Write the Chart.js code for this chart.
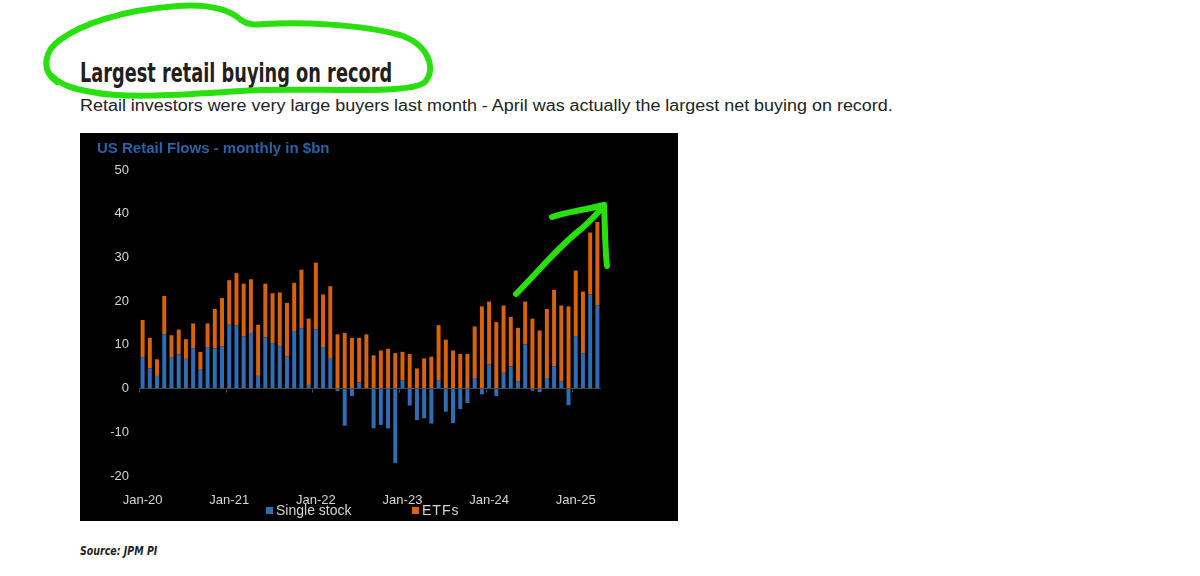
<!DOCTYPE html>
<html lang="en">
<head>
<meta charset="UTF-8">
<title>Largest retail buying on record</title>
<script src="https://cdn.jsdelivr.net/npm/chart.js"></script>
<style>
  body {
    margin: 0;
    width: 1200px;
    height: 576px;
    position: relative;
    overflow: hidden;
    background: #fff;
    font-family: 'Liberation Sans', Arial, sans-serif;
  }
  .fit { position: absolute; margin: 0; white-space: nowrap; transform-origin: left top; }
  #titre {
    left: 80px; top: 59px;
    font-family: 'Liberation Sans Narrow', 'DejaVu Sans Condensed', sans-serif;
    font-weight: bold; font-size: 27px; line-height: 27px; color: #231f20;
  }
  #sous {
    left: 80px; top: 98px;
    font-size: 16px; line-height: 16px; color: #222;
  }
  #source {
    left: 80px; top: 545px;
    font-family: 'Liberation Sans Narrow', 'DejaVu Sans Condensed', sans-serif;
    font-weight: bold; font-style: italic; font-size: 12px; line-height: 12px; color: #231f20;
  }
  .panel {
    position: absolute; left: 80px; top: 133px;
    width: 598px; height: 388px; background: #000;
  }
  .panel canvas { position: absolute; left: 0; top: 0; }
  .chart-titre {
    position: absolute; left: 17px; top: 6px;
    font-weight: bold; font-size: 15px; line-height: 17px; color: #2b62a6;
  }
  .leg {
    position: absolute; top: 370px; font-size: 14px; line-height: 15px; color: #d6d6d6;
  }
  .leg i { position: absolute; left: -10px; top: 4px; width: 7px; height: 7px; }
  svg.marqueur { position: absolute; left: 0; top: 0; pointer-events: none; }
</style>
</head>
<body>
  <h1 class="fit" id="titre" data-w="312">Largest retail buying on record</h1>
  <p class="fit" id="sous" data-w="813">Retail investors were very large buyers last month - April was actually the largest net buying on record.</p>

  <div class="panel">
    <canvas id="flux" width="598" height="388"></canvas>
    <div class="chart-titre">US Retail Flows - monthly in $bn</div>
    <div class="leg" style="left:196px"><i style="background:#2f6eb5"></i>Single stock</div>
    <div class="leg" style="left:342px; letter-spacing:1px"><i style="background:#d9620c"></i>ETFs</div>
  </div>

  <p class="fit" id="source" data-w="77">Source: JPM PI</p>

  <svg class="marqueur" width="1200" height="576">
    <g fill="none" stroke="#29e00e" stroke-width="6" stroke-linecap="round" stroke-linejoin="round">
      <path d="M57 82 C40 70, 45 50, 60 40 C80 25, 120 10, 178 6 C210 4, 230 10, 241 20 C248 25, 255 25, 265 24 C300 22, 360 24, 400 35 C430 45, 436 70, 425 82 C410 95, 320 88, 260 90 C200 93, 130 100, 92 92 C75 89, 62 86, 52 76"/>
      <path d="M516 294 C535 275, 560 245, 580 230 C592 220, 598 212, 604 206"/>
      <path d="M552 217 C565 212, 585 210, 604 205"/>
      <path d="M604 205 C605 225, 605 250, 607 266"/>
    </g>
  </svg>

  <script>
    const mois = [
      'Jan-20','Feb-20','Mar-20','Apr-20','May-20','Jun-20','Jul-20','Aug-20','Sep-20','Oct-20','Nov-20','Dec-20',
      'Jan-21','Feb-21','Mar-21','Apr-21','May-21','Jun-21','Jul-21','Aug-21','Sep-21','Oct-21','Nov-21','Dec-21',
      'Jan-22','Feb-22','Mar-22','Apr-22','May-22','Jun-22','Jul-22','Aug-22','Sep-22','Oct-22','Nov-22','Dec-22',
      'Jan-23','Feb-23','Mar-23','Apr-23','May-23','Jun-23','Jul-23','Aug-23','Sep-23','Oct-23','Nov-23','Dec-23',
      'Jan-24','Feb-24','Mar-24','Apr-24','May-24','Jun-24','Jul-24','Aug-24','Sep-24','Oct-24','Nov-24','Dec-24',
      'Jan-25','Feb-25','Mar-25','Apr-25'
    ];
    const etiquettesX = ['Jan-20', 'Jan-21', 'Jan-22', 'Jan-23', 'Jan-24', 'Jan-25'];

    const singleStock = [
      7.2, 4.6, 2.9, 12.4, 7.2, 7.8, 6.8, 9.2, 4.3, 9.5, 9.2, 9.7,
      14.6, 14.4, 11.9, 12.7, 2.9, 11.7, 10.3, 9.7, 7.3, 13.0, 13.8, 0.8,
      13.5, 9.5, 7.0, -0.6, -8.5, -1.7, 1.4, 0, -9.1, -8.3, -9.1, -17.0,
      1.9, -3.9, -7.2, -6.8, -8.0, 1.8, -5.3, -7.9, -4.7, -3.3, 2.4, -1.3,
      5.5, -1.7, 3.6, 5.1, 1.6, 10.1, -0.5, -0.8, 2.4, 5.1, 1.6, -3.8,
      12.0, 8.1, 21.5, 19.0
    ];
    const etfs = [
      8.5, 7.0, 3.8, 8.8, 5.0, 5.7, 4.5, 5.7, 4.1, 5.4, 9.0, 11.0,
      10.2, 12.0, 12.1, 12.3, 11.7, 12.3, 11.5, 12.3, 12.3, 11.2, 13.4, 15.2,
      15.3, 12.0, 16.4, 12.4, 12.7, 11.6, 10.2, 12.4, 7.6, 8.7, 9.1, 8.1,
      6.5, 7.9, 4.6, 6.9, 7.3, 12.7, 11.2, 8.7, 7.9, 7.9, 11.8, 18.8,
      14.4, 15.2, 15.4, 11.3, 12.3, 9.8, 16.0, 13.3, 15.8, 17.5, 17.4, 18.8,
      15.0, 14.1, 14.2, 19.1
    ];

    const couleurBleu = '#2f6eb5';
    const couleurOrange = '#d9620c';
    const couleurTexte = '#d6d6d6';

    // petites marques sous la ligne zéro, au début de chaque année
    const tiretsZero = {
      id: 'tiretsZero',
      afterDatasetsDraw(chart) {
        const { ctx, scales: { x, y } } = chart;
        const y0 = Math.round(y.getPixelForValue(0)) + 0.5;
        const demi = (x.getPixelForValue(1) - x.getPixelForValue(0)) / 2;
        ctx.save();
        ctx.strokeStyle = '#555';
        ctx.lineWidth = 1;
        mois.forEach((m, i) => {
          if (!etiquettesX.includes(m)) return;
          const px = Math.round(x.getPixelForValue(i) - demi) + 0.5;
          ctx.beginPath();
          ctx.moveTo(px, y0);
          ctx.lineTo(px, y0 + 3);
          ctx.stroke();
        });
        ctx.restore();
      }
    };

    new Chart(document.getElementById('flux'), {
      type: 'bar',
      data: {
        labels: mois,
        datasets: [
          { label: 'Single stock', data: singleStock, backgroundColor: couleurBleu },
          { label: 'ETFs', data: etfs, backgroundColor: couleurOrange }
        ]
      },
      options: {
        responsive: false,
        animation: false,
        layout: { padding: { top: 37, right: 77, left: 0, bottom: 0 } },
        datasets: { bar: { barPercentage: 0.55, categoryPercentage: 1 } },
        plugins: {
          legend: { display: false },
          tooltip: { enabled: false }
        },
        scales: {
          x: {
            stacked: true,
            grid: { display: false },
            border: { display: false },
            ticks: {
              autoSkip: false,
              maxRotation: 0,
              padding: 9,
              color: couleurTexte,
              font: { family: "'Liberation Sans', Arial", size: 13 },
              callback: (v, i) => etiquettesX.includes(mois[i]) ? mois[i] : ''
            },
            afterFit: s => { s.height = 45; }
          },
          y: {
            stacked: true,
            min: -20,
            max: 50,
            border: { display: false },
            grid: {
              drawTicks: false,
              color: c => c.tick && c.tick.value === 0 ? '#4a4a4a' : 'transparent'
            },
            ticks: {
              stepSize: 10,
              padding: 10,
              color: couleurTexte,
              font: { family: "'Liberation Sans', Arial", size: 13 }
            },
            afterFit: s => { s.width = 59; }
          }
        }
      },
      plugins: [tiretsZero]
    });

    // ajuste la largeur des textes à celle de l'image
    document.querySelectorAll('.fit').forEach(el => {
      const w = +el.dataset.w;
      el.style.transform = `scaleX(${w / el.offsetWidth})`;
    });
  </script>
</body>
</html>
